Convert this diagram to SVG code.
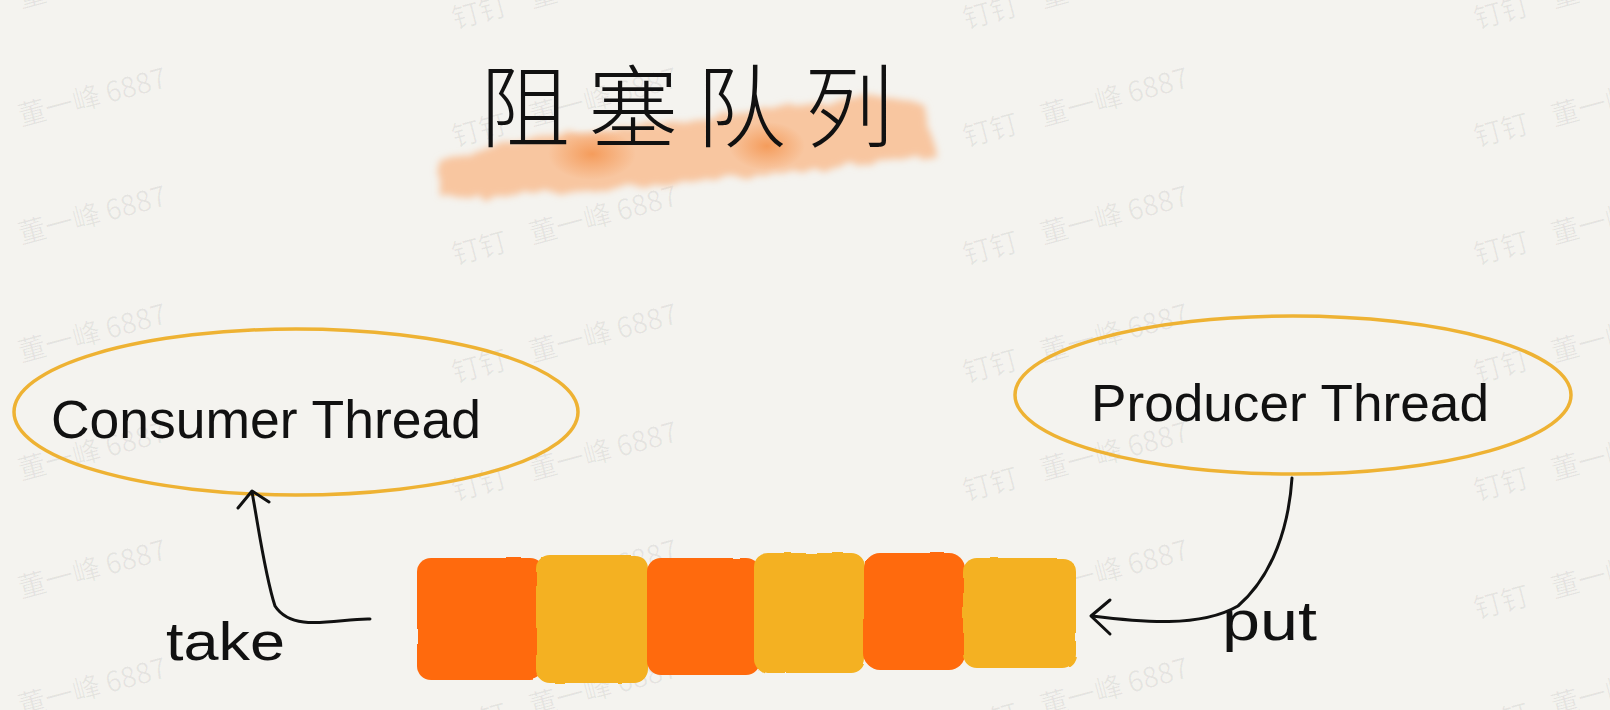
<svg xmlns="http://www.w3.org/2000/svg" width="1610" height="710" viewBox="0 0 1610 710">
<style>
.wm{font-family:"Noto Sans CJK SC","Liberation Sans",sans-serif;font-size:28px;fill:#000;fill-opacity:0.06}
.hand{font-family:"Liberation Sans","DejaVu Sans",sans-serif;fill:#111}
.ell{fill:none;stroke:#eeb233;stroke-width:3.5}
.or{fill:#ff6a0c}
.ye{fill:#f4b120}
.ln{fill:none;stroke:#111;stroke-width:3;stroke-linecap:round;stroke-linejoin:round}
</style>
<defs>
<filter id="brush" x="-10%" y="-50%" width="120%" height="200%">
<feTurbulence type="fractalNoise" baseFrequency="0.05" numOctaves="2" seed="3" result="n"/>
<feDisplacementMap in="SourceGraphic" in2="n" scale="12" result="d"/>
<feGaussianBlur in="d" stdDeviation="3.5"/>
</filter>
<filter id="rough" x="-5%" y="-5%" width="110%" height="110%">
<feTurbulence type="fractalNoise" baseFrequency="0.04" numOctaves="1" seed="7" result="n"/>
<feDisplacementMap in="SourceGraphic" in2="n" scale="3"/>
</filter>
<radialGradient id="spot">
<stop offset="0" stop-color="#f49550" stop-opacity="0.85"/>
<stop offset="1" stop-color="#f49550" stop-opacity="0"/>
</radialGradient>
<g id="wmu"><text class="wm" transform="rotate(-15)">钉钉<tspan dx="24">董一峰 6887</tspan></text></g>
</defs>
<rect width="1610" height="710" fill="#f4f3ef"/>
<g id="watermarks">
<use href="#wmu" x="-56" y="29"/><use href="#wmu" x="455" y="29"/><use href="#wmu" x="966" y="29"/><use href="#wmu" x="1477" y="29"/>
<use href="#wmu" x="-56" y="147"/><use href="#wmu" x="455" y="147"/><use href="#wmu" x="966" y="147"/><use href="#wmu" x="1477" y="147"/>
<use href="#wmu" x="-56" y="265"/><use href="#wmu" x="455" y="265"/><use href="#wmu" x="966" y="265"/><use href="#wmu" x="1477" y="265"/>
<use href="#wmu" x="-56" y="383"/><use href="#wmu" x="455" y="383"/><use href="#wmu" x="966" y="383"/><use href="#wmu" x="1477" y="383"/>
<use href="#wmu" x="-56" y="501"/><use href="#wmu" x="455" y="501"/><use href="#wmu" x="966" y="501"/><use href="#wmu" x="1477" y="501"/>
<use href="#wmu" x="-56" y="619"/><use href="#wmu" x="455" y="619"/><use href="#wmu" x="966" y="619"/><use href="#wmu" x="1477" y="619"/>
<use href="#wmu" x="-56" y="737"/><use href="#wmu" x="455" y="737"/><use href="#wmu" x="966" y="737"/><use href="#wmu" x="1477" y="737"/>
</g>
<g id="title">
<path d="M440,160 L500,145 L560,134 L640,126 L700,120 L780,108 L880,95 L925,106 L936,158 L880,160 L800,172 L720,178 L640,188 L560,192 L470,198 L440,196 Z" fill="#f8c6a0" filter="url(#brush)"/>
<ellipse cx="592" cy="154" rx="44" ry="26" fill="url(#spot)"/>
<ellipse cx="767" cy="146" rx="38" ry="24" fill="url(#spot)"/>
<text x="480" y="140" font-family="'Noto Sans CJK SC',sans-serif" font-weight="300" font-size="90" letter-spacing="18" fill="#111">阻塞队列</text>
</g>
<g id="consumer">
<ellipse class="ell" cx="296" cy="412" rx="282" ry="83"/>
<text class="hand" x="51" y="438" font-size="53" textLength="430" lengthAdjust="spacingAndGlyphs">Consumer Thread</text>
</g>
<g id="producer">
<ellipse class="ell" cx="1293" cy="395" rx="278" ry="79"/>
<text class="hand" x="1091" y="421" font-size="52" textLength="398" lengthAdjust="spacingAndGlyphs">Producer Thread</text>
</g>
<g id="queue" filter="url(#rough)">
<rect class="or" x="417" y="558" width="127" height="122" rx="14"/>
<rect class="ye" x="536" y="555" width="112" height="128" rx="14"/>
<rect class="or" x="647" y="558" width="113" height="117" rx="14"/>
<rect class="ye" x="754" y="553" width="111" height="120" rx="14"/>
<rect class="or" x="864" y="553" width="101" height="117" rx="16"/>
<rect class="ye" x="963" y="558" width="113" height="110" rx="14"/>
</g>
<g id="connectors">
<path class="ln" d="M370,619 C339,618 293,634 275,606 C265,575 259,530 252,492"/>
<path class="ln" d="M238,508 L252,491 L269,502"/>
<path class="ln" d="M1292,478 C1289,524 1274,575 1238,606 C1200,628 1140,622 1092,616"/>
<path class="ln" d="M1110,600 L1091,616 L1110,634"/>
</g>
<g id="labels">
<text class="hand" x="166" y="660" font-size="54" textLength="119" lengthAdjust="spacingAndGlyphs">take</text>
<text class="hand" x="1222" y="640" font-size="56" textLength="95" lengthAdjust="spacingAndGlyphs">put</text>
</g>
</svg>
